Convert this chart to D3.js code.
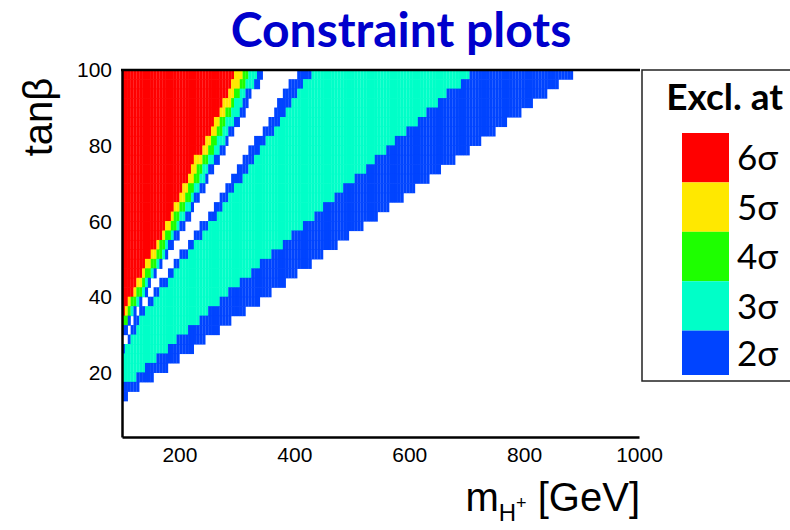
<!DOCTYPE html>
<html><head><meta charset="utf-8">
<script src="https://cdn.jsdelivr.net/npm/d3@7"></script>
<style>body{margin:0;background:#fff}svg{display:block}</style>
</head><body>
<svg id="c" width="790" height="530"></svg>
<script>
// ---- data ----
// lower tanβ edge of each 2.5-wide row, top row first
const rowLow = [97.5,95,92.5,90,87.5,85,82.5,80,77.5,75,72.5,70,67.5,65,62.5,60,57.5,55,52.5,50,47.5,45,42.5,40,37.5,35,32.5,30,27.5,25,22.5,20,17.5,15,12.5];
// m_H+ (GeV) where each band ends, going left to right along a row
const end6s  = [295,290,285,275,270,260,255,245,240,225,220,215,205,200,190,185,175,170,160,150,140,135,125,120,110,105,100,100,100,100,100,100,100,100,100];
const end5s  = [310,305,295,290,280,270,265,255,250,240,230,225,215,210,200,190,185,175,165,160,150,140,135,125,115,110,100,100,100,100,100,100,100,100,100];
const end4s  = [320,315,305,295,290,280,275,265,260,250,240,235,225,220,210,200,195,185,175,170,160,150,140,135,125,115,110,100,100,100,100,100,100,100,100];
const end3sA = [335,330,315,310,305,295,285,280,270,260,250,245,235,225,220,210,200,190,180,175,165,155,145,140,130,120,110,100,100,100,100,100,100,100,100];
const end2sA = [345,340,325,320,315,305,295,285,280,270,260,250,245,235,225,220,210,200,190,180,170,160,150,145,135,125,115,110,100,100,100,100,100,100,100];
const endGap = [405,390,380,370,365,355,345,330,320,310,300,290,280,270,260,250,235,225,215,200,190,180,165,155,145,130,120,115,110,100,100,100,100,100,100];
const end2sB = [430,415,405,395,385,375,365,350,340,330,320,310,295,285,275,265,250,240,225,215,200,190,180,165,155,140,130,125,115,105,100,100,100,100,100];
const end3sB = [705,690,665,650,630,615,595,575,560,540,525,505,485,470,450,435,415,395,380,360,340,325,305,285,270,250,235,215,195,180,160,140,125,100,100];
const end2sC = [885,860,840,815,795,770,750,725,705,680,655,635,610,590,565,545,520,495,475,450,430,405,385,360,340,315,290,270,245,225,200,180,155,130,110];
const bandLevels = [6,5,4,3,2,0,2,3,2];
const mStep = 5, tStep = 2.5, mStart = 100;
const xTicks = [200,400,600,800,1000];
const yTicks = [20,40,60,80,100];
const legendLabels = ["6σ","5σ","4σ","3σ","2σ"];
const legendLevels = [6,5,4,3,2];
const levelColor = {6:"#ff0000",5:"#ffe800",4:"#1eff00",3:"#00ffc8",2:"#0044ff"};

// ---- build cells ----
const bounds = [end6s,end5s,end4s,end3sA,end2sA,endGap,end2sB,end3sB,end2sC];
const cells = [];
rowLow.forEach((t,i)=>{
  let start = mStart;
  bounds.forEach((arr,b)=>{
    const stop = arr[i];
    for(let m=start; m<stop; m+=mStep){
      if(bandLevels[b]>0) cells.push({m, t, lvl:bandLevels[b]});
    }
    start = Math.max(start, stop);
  });
});

const svg = d3.select("#c");
const x = d3.scaleLinear().domain([100,1000]).range([122,639]);
const y = d3.scaleLinear().domain([3,100]).range([437,70]);

svg.append("g").selectAll("rect").data(cells).join("rect")
  .attr("x", d=>x(d.m))
  .attr("width", d=>x(d.m+mStep)-x(d.m)+0.2)
  .attr("y", d=>y(d.t+tStep)-0.3)
  .attr("height", d=>y(d.t)-y(d.t+tStep)+0.6)
  .attr("fill", d=>levelColor[d.lvl]);

// axes
const axFont = "'Liberation Sans', Arial, sans-serif";
const gx = svg.append("g").attr("transform","translate(0,437)")
  .call(d3.axisBottom(x).tickValues(xTicks).tickSize(0).tickSizeOuter(0).tickPadding(12).tickFormat(d3.format("d")));
const gy = svg.append("g").attr("transform","translate(122,0)")
  .call(d3.axisLeft(y).tickValues(yTicks).tickSize(0).tickSizeOuter(0).tickPadding(10).tickFormat(d3.format("d")));
[gx,gy].forEach(g=>{
  g.select(".domain").attr("stroke","#000").attr("stroke-width",2.5);
  g.selectAll("text").attr("font-family",axFont).attr("font-size",21).attr("fill","#000");
});
gx.selectAll("text").attr("dy","0.6em");
// top frame line
svg.append("line").attr("x1",x(100)-1).attr("x2",x(1000)+1).attr("y1",y(100)).attr("y2",y(100))
  .attr("stroke","#000").attr("stroke-width",2.5);

// title
svg.append("text").attr("x",401).attr("y",47).attr("text-anchor","middle")
  .attr("font-family","Lato, 'Open Sans', sans-serif").attr("font-weight","bold")
  .attr("font-size",48).attr("fill","#0000cc").text("Constraint plots");

// y title
svg.append("text").attr("transform","translate(52,117) rotate(-90)").attr("text-anchor","middle")
  .attr("font-family",axFont).attr("font-size",40).attr("fill","#000").text("tanβ");

// x title
const xt = svg.append("text").attr("x",640).attr("y",511).attr("text-anchor","end")
  .attr("font-family",axFont).attr("font-size",40).attr("fill","#000");
xt.append("tspan").text("m");
xt.append("tspan").attr("font-size",24).attr("dy",10).text("H");
xt.append("tspan").attr("font-size",18).attr("dy",-12).text("+");
xt.append("tspan").attr("dy",2).text(" [GeV]");

// legend
const lg = svg.append("g");
lg.append("rect").attr("x",642).attr("y",70).attr("width",200).attr("height",311)
  .attr("fill","#fff").attr("stroke","#222").attr("stroke-width",1.5);
lg.append("text").attr("x",783).attr("y",110).attr("text-anchor","end")
  .attr("font-family","Lato, 'Noto Sans', sans-serif").attr("font-weight","bold")
  .attr("font-size",37).attr("fill","#000").text("Excl. at");
const sw = d3.scaleBand().domain(legendLevels).range([133,380]);
lg.selectAll("rect.sw").data(legendLevels).join("rect").attr("class","sw")
  .attr("x",682).attr("width",47)
  .attr("y",d=>sw(d)).attr("height",(d,i)=> i===4 ? sw.bandwidth()-5 : sw.bandwidth())
  .attr("fill",d=>levelColor[d]);
lg.selectAll("text.lb").data(legendLabels).join("text").attr("class","lb")
  .attr("x",737).attr("y",(d,i)=>sw(legendLevels[i])+sw.bandwidth()/2 + (i===4?-2:0))
  .attr("dy","0.36em")
  .attr("font-family","Lato, 'Noto Sans', sans-serif").attr("font-size",35).attr("fill","#000").text(d=>d);
</script>
</body></html>
